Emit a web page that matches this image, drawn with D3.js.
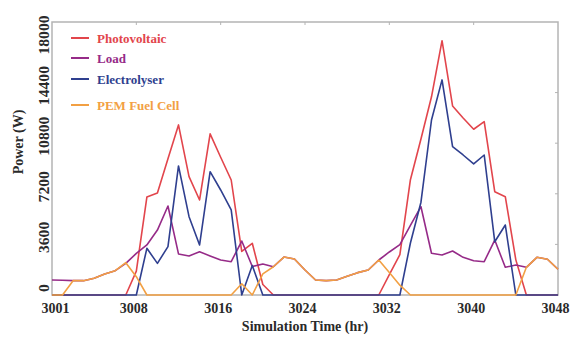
<!DOCTYPE html>
<html>
<head>
<meta charset="utf-8">
<script src="https://cdn.jsdelivr.net/npm/d3@7"></script>
<style>
  body { margin: 0; background: #fff; }
</style>
</head>
<body>
<div id="chart"></div>
<script>
// hourly samples
var hours = [3000, 3001, 3002, 3003, 3004, 3005, 3006, 3007, 3008, 3009, 3010, 3011, 3012,
  3013, 3014, 3015, 3016, 3017, 3018, 3019, 3020, 3021, 3022, 3023, 3024, 3025,
  3026, 3027, 3028, 3029, 3030, 3031, 3032, 3033, 3034, 3035, 3036, 3037, 3038,
  3039, 3040, 3041, 3042, 3043, 3044, 3045, 3046, 3047, 3048];

var photovoltaic = [0, 0, 0, 0, 0, 0, 0, 0, 1700, 6970, 7260, 9700, 12100,
  8420, 6760, 11460, 9800, 8180, 3100, 3680, 750, 0, 0, 0, 0, 0,
  0, 0, 0, 0, 0, 0, 1450, 2880, 8200, 11100, 14100, 18090, 13450,
  12590, 11790, 12330, 7350, 6990, 2500, 0, 0, 0, 0];

var load = [1070, 1050, 1020, 1020, 1190, 1490, 1730, 2250, 2960, 3560, 4620, 6330, 2920,
  2780, 3080, 2780, 2490, 2370, 3840, 2030, 2200, 2010, 2700, 2560, 1780, 1070,
  1020, 1070, 1330, 1590, 1780, 2490, 3060, 3580, 4950, 6280, 2970, 2850, 3130,
  2680, 2440, 2370, 3910, 1970, 2130, 1970, 2680, 2540, 1830];

var electrolyser = [0, 0, 0, 0, 0, 0, 0, 0, 0, 3320, 2250, 3440, 9180,
  5570, 3560, 8770, 7470, 6050, 0, 2100, 0, 0, 0, 0, 0, 0,
  0, 0, 0, 0, 0, 0, 0, 0, 3700, 6600, 12450, 15300, 10550,
  9960, 9320, 9960, 3790, 4980, 0, 0, 0, 0, 0];

var pemFuelCell = [0, 0, 1020, 1020, 1190, 1490, 1730, 2300, 1300, 0, 0, 0, 0,
  0, 0, 0, 0, 0, 800, 0, 1500, 2010, 2700, 2560, 1780, 1070,
  1020, 1070, 1330, 1590, 1780, 2490, 1600, 700, 0, 0, 0, 0, 0,
  0, 0, 0, 0, 0, 0, 1970, 2680, 2540, 1830];

var xTickHours = [3000, 3008, 3016, 3024, 3032, 3040, 3048];
var xTickLabels = ["3001", "3008", "3016", "3024", "3032", "3040", "3048"];
var yTicks = [0, 3600, 7200, 10800, 14400, 18000];

var seriesNames = ["Photovoltaic", "Load", "Electrolyser", "PEM Fuel Cell"];
var seriesColors = ["#e2454c", "#962b88", "#2f3f8f", "#f2a043"];
var seriesValues = [photovoltaic, load, electrolyser, pemFuelCell];

var FONT = "'Liberation Serif', 'Times New Roman', Times, serif";

var width = 574, height = 338;
var margin = {top: 22, right: 16, bottom: 43, left: 52};
var plotW = width - margin.left - margin.right;
var plotH = height - margin.top - margin.bottom;

var svg = d3.select("#chart")
  .append("svg")
  .attr("width", width)
  .attr("height", height);

var g = svg.append("g")
  .attr("transform", "translate(" + margin.left + "," + margin.top + ")");

var x = d3.scaleLinear()
  .domain([3000, 3048])
  .range([0, plotW]);

var y = d3.scaleLinear()
  .domain([0, 19420])
  .range([plotH, 0]);

// frame
g.append("rect")
  .attr("width", plotW)
  .attr("height", plotH)
  .attr("fill", "none")
  .attr("stroke", "#b4b4b4")
  .attr("stroke-width", 1.5);

// small inner ticks on the top and right edges
g.selectAll(".rtick")
  .data(yTicks.slice(1, -1))
  .enter()
  .append("line")
  .attr("x1", plotW).attr("x2", plotW - 3)
  .attr("y1", function(d){ return y(d); })
  .attr("y2", function(d){ return y(d); })
  .attr("stroke", "#b4b4b4");

g.selectAll(".ttick")
  .data(xTickHours.slice(1, -1))
  .enter()
  .append("line")
  .attr("x1", function(d){ return x(d); })
  .attr("x2", function(d){ return x(d); })
  .attr("y1", 0).attr("y2", 3)
  .attr("stroke", "#b4b4b4");

// x tick labels
var xAxis = d3.axisBottom(x)
  .tickValues(xTickHours)
  .tickSize(0)
  .tickPadding(8)
  .tickFormat(function(d, i){ return xTickLabels[i]; });

var XAXIS = g.append("g")
  .attr("transform", "translate(0," + plotH + ")")
  .call(xAxis);
XAXIS.select(".domain").remove();
XAXIS.selectAll("text")
  .attr("dx", function(d, i){ return i === 0 ? 3 : -3; })
  .attr("font-family", FONT)
  .attr("font-weight", "bold")
  .attr("font-size", 14)
  .attr("fill", "#2a2a2a");

// y tick labels, rotated
g.selectAll(".ylab")
  .data(yTicks)
  .enter()
  .append("text")
  .attr("transform", function(d){ return "translate(-8," + (y(d) - 7) + ") rotate(-90) scale(1.12,1)"; })
  .attr("text-anchor", "middle")
  .attr("dy", "0.35em")
  .attr("font-family", FONT)
  .attr("font-weight", "bold")
  .attr("font-size", 14)
  .attr("fill", "#2a2a2a")
  .text(function(d){ return d; });

// axis titles
svg.append("text")
  .attr("transform", "translate(18,142) rotate(-90)")
  .attr("text-anchor", "middle")
  .attr("dy", "0.35em")
  .attr("font-family", FONT)
  .attr("font-weight", "bold")
  .attr("font-size", 14)
  .attr("fill", "#2a2a2a")
  .text("Power (W)");

svg.append("text")
  .attr("x", 305)
  .attr("y", 331)
  .attr("text-anchor", "middle")
  .attr("font-family", FONT)
  .attr("font-weight", "bold")
  .attr("font-size", 14)
  .attr("fill", "#2a2a2a")
  .text("Simulation Time (hr)");

// lines
var line = d3.line()
  .x(function(d, i){ return x(hours[i]); })
  .y(function(d){ return y(d); });

var lines = g.append("g");
seriesValues.forEach(function(vals, k){
  lines.append("path")
    .datum(vals)
    .attr("d", line)
    .attr("fill", "none")
    .attr("stroke", seriesColors[k])
    .attr("stroke-width", 1.6)
    .attr("stroke-linejoin", "round");
});

// legend
var legendY = [38, 58, 79, 105];
var legend = svg.append("g");
seriesNames.forEach(function(name, k){
  legend.append("line")
    .attr("x1", 71).attr("x2", 89)
    .attr("y1", legendY[k]).attr("y2", legendY[k])
    .attr("stroke", seriesColors[k])
    .attr("stroke-width", 2);
  legend.append("text")
    .attr("x", 97)
    .attr("y", legendY[k])
    .attr("dy", "0.35em")
    .attr("font-family", FONT)
    .attr("font-weight", "bold")
    .attr("font-size", 13)
    .attr("fill", seriesColors[k])
    .text(name);
});
</script>
</body>
</html>
